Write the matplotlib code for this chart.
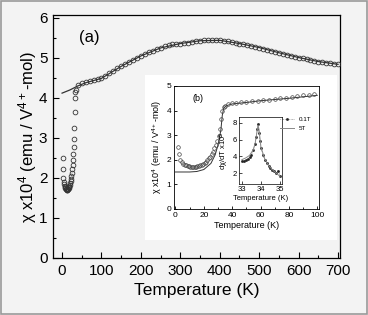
import matplotlib.pyplot as plt
from matplotlib.patches import Rectangle

plt.rcParams['font.family'] = ['Liberation Sans', 'DejaVu Sans']
plt.rcParams['mathtext.default'] = 'regular'

# main panel (a): chi x10^4 vs T
lowT = [1.8, 2.5, 3.5, 4.5, 5.5, 6.5, 7.5, 8.5, 9.5, 10.5, 11.5, 12.5, 13.5, 14.5, 15.5,
        16.5, 17.5, 18.5, 19.5, 20.5, 21.5, 22.5, 23.5, 24.5, 25.5, 26.5, 27.5, 28.5,
        29.5, 30.5, 31.5, 32.3, 33.0, 34.0, 35.0]
lowT_chi = [2.5, 2.22, 2.0, 1.9, 1.84, 1.8, 1.77, 1.75, 1.73, 1.72, 1.71, 1.71, 1.71, 1.72,
            1.73, 1.75, 1.77, 1.8, 1.83, 1.87, 1.92, 1.98, 2.05, 2.13, 2.22, 2.33, 2.46,
            2.6, 2.78, 2.98, 3.25, 3.65, 4.0, 4.15, 4.2]
highT = list(range(40, 701, 10))
highT_chi = [4.33, 4.38, 4.4, 4.43, 4.45, 4.47, 4.5, 4.56, 4.62, 4.68, 4.74, 4.8, 4.86, 4.91,
             4.96, 5.01, 5.06, 5.1, 5.14, 5.18, 5.22, 5.26, 5.29, 5.32, 5.34, 5.35, 5.36,
             5.37, 5.38, 5.4, 5.42, 5.43, 5.44, 5.45, 5.45, 5.45, 5.44, 5.43, 5.42, 5.4,
             5.38, 5.36, 5.34, 5.32, 5.3, 5.28, 5.26, 5.23, 5.21, 5.18, 5.16, 5.13, 5.11,
             5.08, 5.06, 5.03, 5.01, 4.99, 4.97, 4.95, 4.93, 4.91, 4.9, 4.88, 4.87, 4.85, 4.84]
fit_T = [0, 20, 40, 60, 100, 150, 200, 250, 300, 350, 400, 450, 500, 550, 600, 650, 700]
fit_chi = [4.12, 4.2, 4.3, 4.38, 4.49, 4.79, 5.05, 5.25, 5.36, 5.43, 5.44, 5.36, 5.26,
           5.13, 5.01, 4.91, 4.84]

# inset (b): 0-100 K
b_T = lowT + [37, 40, 43, 46, 50, 54, 58, 62, 66, 70, 74, 78, 82, 86, 90, 94, 98]
b_chi = lowT_chi + [4.25, 4.3, 4.32, 4.34, 4.36, 4.38, 4.4, 4.42, 4.44, 4.47, 4.5, 4.53,
                    4.56, 4.59, 4.62, 4.65, 4.68]
b_fit_T = [0, 10, 15, 20, 25, 28, 30, 32, 33, 34, 36, 40, 50, 60, 70, 80, 90, 100]
b_fit_chi = [1.5, 1.5, 1.52, 1.6, 1.85, 2.2, 2.6, 3.2, 3.8, 4.1, 4.2, 4.27, 4.33, 4.4,
             4.45, 4.5, 4.56, 4.62]

# inner inset: d chi / dT x10^5
d_T1 = [33.0, 33.1, 33.2, 33.3, 33.4, 33.5, 33.6, 33.7, 33.75, 33.8, 33.85, 33.9, 33.95,
        34.0, 34.1, 34.2, 34.3, 34.4, 34.5, 34.6, 34.7, 34.8, 34.9, 35.0]
d_v1 = [3.4, 3.4, 3.5, 3.7, 3.9, 4.2, 4.7, 5.5, 6.3, 7.3, 7.8, 6.8, 5.8, 5.0, 4.2, 3.6,
        3.2, 2.9, 2.6, 2.4, 2.2, 2.0, 2.3, 1.7]
d_T5 = [33.0, 33.2, 33.4, 33.6, 33.7, 33.8, 33.85, 33.9, 34.0, 34.2, 34.4, 34.6, 34.8, 35.0]
d_v5 = [3.6, 3.8, 4.1, 4.8, 5.6, 7.0, 7.7, 7.2, 5.1, 3.7, 2.9, 2.4, 2.0, 1.6]

bg = '#f3f3f3'
fig = plt.figure(figsize=(3.68, 3.15), dpi=100, facecolor=bg)
fig.patches.append(Rectangle((0.003, 0.003), 0.994, 0.994, transform=fig.transFigure,
                             fill=False, edgecolor='#999999', lw=1.2))

ax = fig.add_axes([0.144, 0.181, 0.78, 0.771], facecolor=bg)
ax.plot(fit_T, fit_chi, color='#333333', lw=0.9, zorder=2)
ax.plot(lowT + highT, lowT_chi + highT_chi, 'o', mfc='none', mec='#333333', ms=3.4,
        mew=0.6, zorder=3)
ax.set_xlim(-23, 705)
ax.set_ylim(0, 6.07)
ax.set_xticks(range(0, 701, 100))
ax.set_xticks(range(0, 701, 50), minor=True)
ax.set_yticks(range(0, 7))
ax.set_yticks([i + 0.5 for i in range(6)], minor=True)
ax.tick_params(direction='in', labelsize=11, length=4, width=0.8, pad=4)
ax.tick_params(which='minor', direction='in', length=2.5, width=0.8)
ax.set_xlabel('Temperature (K)', fontsize=12.5, labelpad=4)
ax.set_ylabel(r'$\chi$ x10$^4$ (emu / V$^{4+}$-mol)', fontsize=12, labelpad=0)
ax.text(43, 5.4, '(a)', fontsize=12)
for s in ax.spines.values():
    s.set_linewidth(0.9)

# white box behind inset
fig.patches.append(Rectangle((145 / 368, 1 - 240 / 315), 192 / 368, 165 / 315,
                             transform=fig.transFigure, facecolor='white',
                             edgecolor='none', zorder=1.5))

axb = fig.add_axes([0.473, 0.337, 0.393, 0.39], facecolor='white', zorder=2)
axb.plot(b_fit_T, b_fit_chi, color='#333333', lw=0.7)
axb.plot(b_T, b_chi, 'o', mfc='none', mec='#444444', ms=2.6, mew=0.5)
axb.set_xlim(-1, 101)
axb.set_ylim(0, 5)
axb.set_xticks(range(0, 101, 20))
axb.set_xticks(range(0, 101, 10), minor=True)
axb.set_yticks(range(0, 6))
axb.tick_params(direction='in', labelsize=6, length=2.5, width=0.6, pad=2)
axb.tick_params(which='minor', direction='in', length=1.5, width=0.6)
axb.set_xlabel('Temperature (K)', fontsize=6.5, labelpad=2)
axb.set_ylabel(r'$\chi$ x10$^4$ (emu / V$^{4+}$-mol)', fontsize=6.5, labelpad=2)
axb.text(12, 4.4, '(b)', fontsize=6.5)
for s in axb.spines.values():
    s.set_linewidth(0.6)

axc = fig.add_axes([0.649, 0.416, 0.117, 0.213], facecolor='white', zorder=3)
axc.plot(d_T1, d_v1, color='#222222', lw=0.4, ls=':', marker='s', ms=0.9, label='0.1T')
axc.plot(d_T5, d_v5, color='#888888', lw=0.7, label='5T')
axc.set_xlim(32.84, 35.1)
axc.set_ylim(0.7, 8.7)
axc.set_xticks([33, 34, 35])
axc.set_yticks([2, 4, 6, 8])
axc.tick_params(direction='in', labelsize=5.5, length=2, width=0.5, pad=1.5)
axc.set_xlabel('Temperature (K)', fontsize=5.5, labelpad=1.5)
axc.set_ylabel(r'd$\chi$/dT x10$^5$', fontsize=5.5, labelpad=1)
axc.legend(loc='upper left', bbox_to_anchor=(0.9, 1.04), frameon=False, fontsize=4.5,
           handlelength=2.2, labelspacing=0.6, borderaxespad=0)
for s in axc.spines.values():
    s.set_linewidth(0.5)

fig.savefig('out.png', dpi=100, facecolor=bg)
